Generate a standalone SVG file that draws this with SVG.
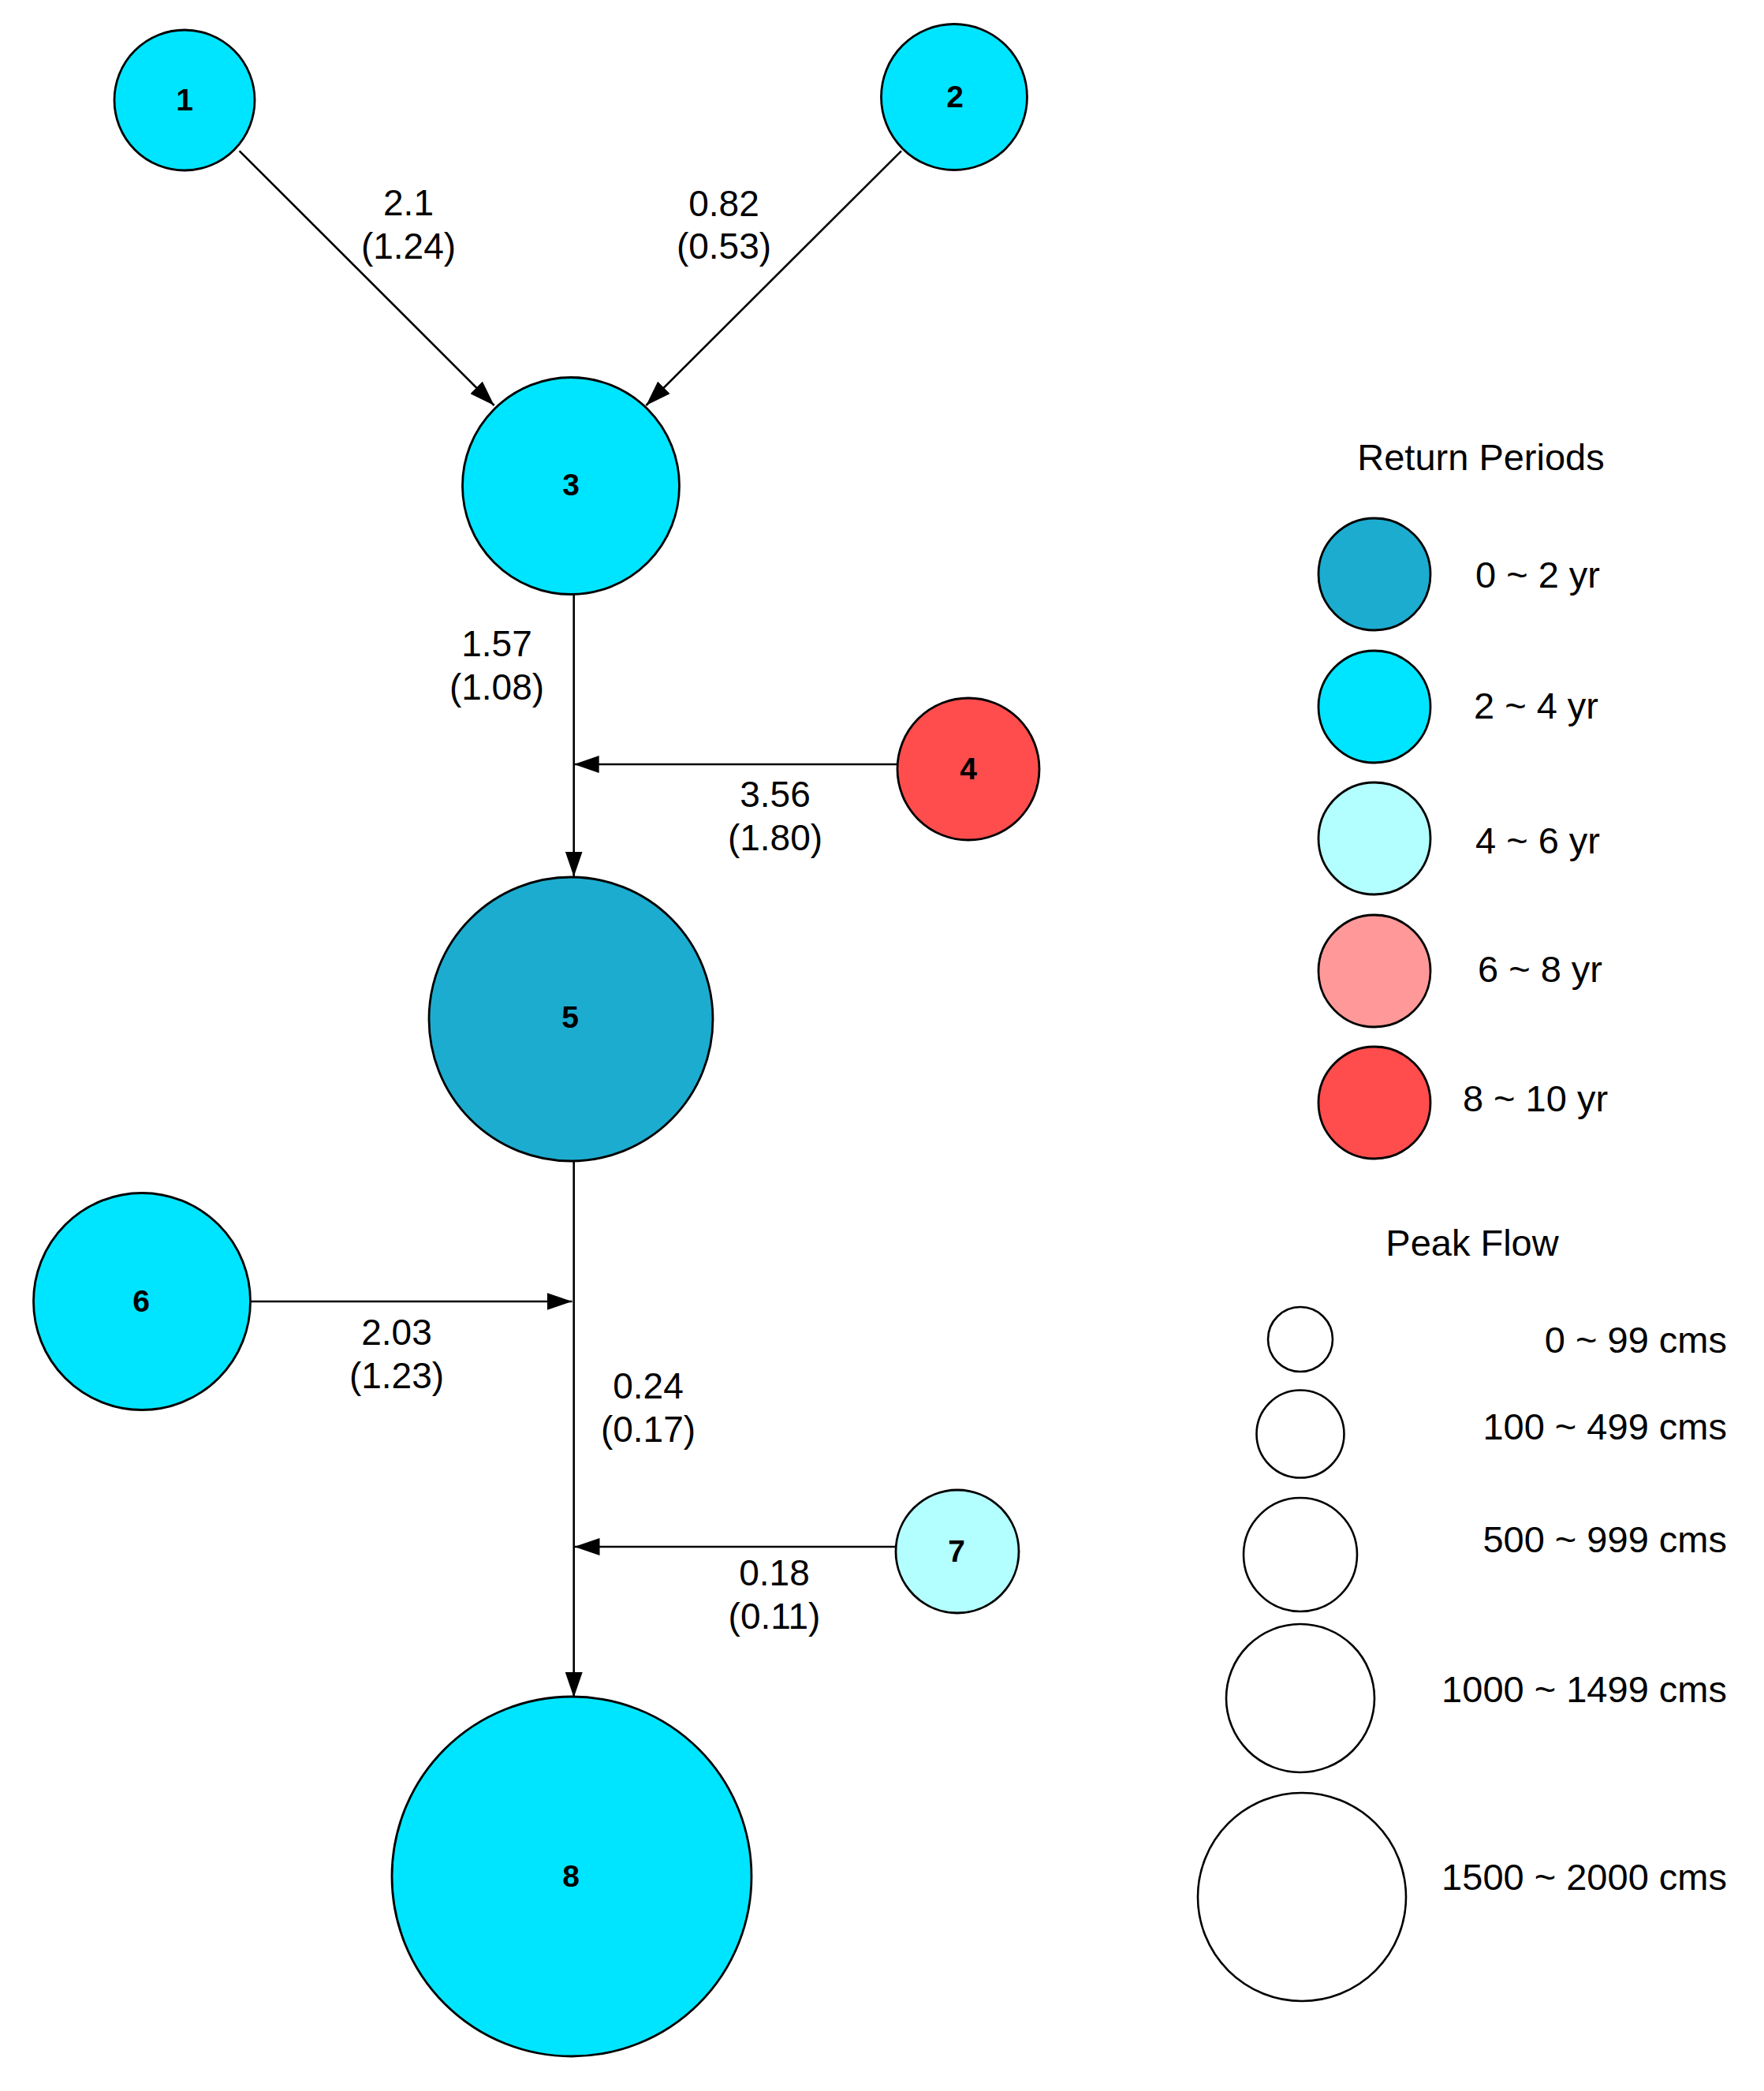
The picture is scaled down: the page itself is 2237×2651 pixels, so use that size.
<svg xmlns="http://www.w3.org/2000/svg" width="2237" height="2651" viewBox="0 0 2237 2651">
<style>
.node{stroke:#000;stroke-width:2.8}
.c0{fill:#1CACCF}.c2{fill:#00E5FF}.c4{fill:#B3FFFF}.c6{fill:#FF9999}.c8{fill:#FF4D4D}
.nl{font-family:"Liberation Sans",Arial,sans-serif;font-weight:bold;font-size:39px;text-anchor:middle;fill:#000}
.el{font-family:"Liberation Sans",Arial,sans-serif;font-size:46px;text-anchor:middle;fill:#000}
.conn{stroke:#000;stroke-width:2.6;fill:none}
.lg{font-family:"Liberation Sans",Arial,sans-serif;font-size:47px;fill:#000}
.lc{stroke:#000;stroke-width:2.8}
.pf{fill:none;stroke:#000;stroke-width:2.6}
</style>
<defs>
<marker id="arr" markerUnits="userSpaceOnUse" markerWidth="32" markerHeight="22" refX="32" refY="11" orient="auto" viewBox="0 0 32 22">
<path d="M0,0 L32,11 L0,22 Z" fill="#000"/>
</marker>
</defs>
<rect width="2237" height="2651" fill="#fff"/>
<g id="connectors">
<line class="conn" x1="303.6" y1="191.3" x2="626.7" y2="514" marker-end="url(#arr)"/>
<line class="conn" x1="1143" y1="191.3" x2="819.3" y2="514" marker-end="url(#arr)"/>
<line class="conn" x1="727.7" y1="753.6" x2="727.7" y2="1111.5" marker-end="url(#arr)"/>
<line class="conn" x1="1138.6" y1="969" x2="727.7" y2="969" marker-end="url(#arr)"/>
<line class="conn" x1="727.7" y1="1471" x2="727.7" y2="2152" marker-end="url(#arr)"/>
<line class="conn" x1="317" y1="1650" x2="725.5" y2="1650" marker-end="url(#arr)"/>
<line class="conn" x1="1136" y1="1961" x2="728.5" y2="1961" marker-end="url(#arr)"/>
<text class="el" x="518" y="273">2.1</text>
<text class="el" x="518" y="328">(1.24)</text>
<text class="el" x="918" y="274">0.82</text>
<text class="el" x="918" y="328">(0.53)</text>
<text class="el" x="630" y="832">1.57</text>
<text class="el" x="630" y="887">(1.08)</text>
<text class="el" x="983" y="1023">3.56</text>
<text class="el" x="983" y="1078">(1.80)</text>
<text class="el" x="503" y="1705">2.03</text>
<text class="el" x="503" y="1760">(1.23)</text>
<text class="el" x="822" y="1773">0.24</text>
<text class="el" x="822" y="1828">(0.17)</text>
<text class="el" x="982" y="2010">0.18</text>
<text class="el" x="982" y="2065">(0.11)</text>
</g>
<g id="node1"><circle class="node c2" cx="234" cy="127" r="89"/><text class="nl" x="234" y="140">1</text></g>
<g id="node2"><circle class="node c2" cx="1210" cy="123" r="92.5"/><text class="nl" x="1211" y="136">2</text></g>
<g id="node3"><circle class="node c2" cx="724" cy="616" r="137.5"/><text class="nl" x="724" y="628">3</text></g>
<g id="node4"><circle class="node c8" cx="1228" cy="975" r="90"/><text class="nl" x="1228" y="988">4</text></g>
<g id="node5"><circle class="node c0" cx="724" cy="1292" r="180"/><text class="nl" x="723" y="1303">5</text></g>
<g id="node6"><circle class="node c2" cx="180" cy="1650" r="137.5"/><text class="nl" x="179" y="1663">6</text></g>
<g id="node7"><circle class="node c4" cx="1214" cy="1967" r="78"/><text class="nl" x="1213" y="1980">7</text></g>
<g id="node8"><circle class="node c2" cx="725" cy="2379" r="228"/><text class="nl" x="724" y="2392">8</text></g>
<g id="legend-return-periods">
<text class="lg" x="1878" y="596" text-anchor="middle">Return Periods</text>
<circle class="lc c0" cx="1743" cy="728" r="71"/>
<text class="lg" x="1950" y="745" text-anchor="middle">0 ~ 2 yr</text>
<circle class="lc c2" cx="1743" cy="896" r="71"/>
<text class="lg" x="1948" y="911" text-anchor="middle">2 ~ 4 yr</text>
<circle class="lc c4" cx="1743" cy="1063" r="71"/>
<text class="lg" x="1950" y="1082" text-anchor="middle">4 ~ 6 yr</text>
<circle class="lc c6" cx="1743" cy="1231" r="71"/>
<text class="lg" x="1953" y="1245" text-anchor="middle">6 ~ 8 yr</text>
<circle class="lc c8" cx="1743" cy="1398" r="71"/>
<text class="lg" x="1947" y="1409" text-anchor="middle">8 ~ 10 yr</text>
</g>
<g id="legend-peak-flow">
<text class="lg" x="1867" y="1592" text-anchor="middle">Peak Flow</text>
<circle class="pf" cx="1649" cy="1698" r="41"/>
<text class="lg" x="2190" y="1715" text-anchor="end">0 ~ 99 cms</text>
<circle class="pf" cx="1649" cy="1818" r="55.5"/>
<text class="lg" x="2190" y="1825" text-anchor="end">100 ~ 499 cms</text>
<circle class="pf" cx="1649" cy="1971" r="72"/>
<text class="lg" x="2190" y="1968" text-anchor="end">500 ~ 999 cms</text>
<circle class="pf" cx="1649" cy="2153" r="94"/>
<text class="lg" x="2190" y="2158" text-anchor="end">1000 ~ 1499 cms</text>
<circle class="pf" cx="1651" cy="2405" r="132"/>
<text class="lg" x="2190" y="2396" text-anchor="end">1500 ~ 2000 cms</text>
</g>
</svg>
